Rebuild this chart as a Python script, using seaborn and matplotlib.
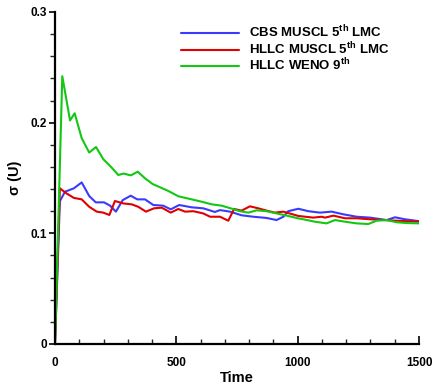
import matplotlib
matplotlib.use("Agg")
import matplotlib.pyplot as plt
from matplotlib.ticker import MultipleLocator
import seaborn as sns
import pandas as pd

# ---- data ----
labels = ["CBS MUSCL 5$^{\\mathbf{th}}$ LMC",
          "HLLC MUSCL 5$^{\\mathbf{th}}$ LMC",
          "HLLC WENO 9$^{\\mathbf{th}}$"]

x_ticks = [0, 500, 1000, 1500]
x_ticklabels = ["0", "500", "1000", "1500"]
y_ticks = [0, 0.1, 0.2, 0.3]
y_ticklabels = ["0", "0.1", "0.2", "0.3"]

t_cbs = [0, 20, 41, 78, 110, 141, 168, 202, 227, 251, 279, 312, 339, 371, 405, 446,
         477, 512, 563, 611, 659, 680, 721, 769, 817, 872, 913, 941, 961, 1003, 1044,
         1092, 1140, 1188, 1243, 1298, 1367, 1401, 1442, 1500]
v_cbs = [0, 0.129, 0.1376, 0.1407, 0.146, 0.1337, 0.128, 0.128, 0.125, 0.1196, 0.130,
         0.134, 0.1307, 0.1307, 0.1256, 0.125, 0.1217, 0.1256, 0.1235, 0.1226, 0.1193,
         0.121, 0.1196, 0.1163, 0.115, 0.1139, 0.112, 0.115, 0.120, 0.1222, 0.120,
         0.1187, 0.1196, 0.1172, 0.115, 0.1142, 0.112, 0.1145, 0.1127, 0.111]

t_hllc = [0, 20, 48, 78, 110, 141, 172, 199, 224, 247, 282, 316, 343, 375, 408, 440,
          477, 508, 536, 570, 611, 639, 680, 714, 738, 769, 803, 838, 872, 906, 941,
          1003, 1064, 1099, 1113, 1147, 1195, 1243, 1298, 1353, 1408, 1500]
v_hllc = [0, 0.1407, 0.136, 0.132, 0.1307, 0.124, 0.1196, 0.1187, 0.1166, 0.1292,
          0.127, 0.1262, 0.124, 0.1196, 0.1226, 0.1232, 0.1187, 0.122, 0.1196, 0.120,
          0.118, 0.115, 0.115, 0.1114, 0.122, 0.1205, 0.1244, 0.1226, 0.1205, 0.1187,
          0.1196, 0.1157, 0.1142, 0.115, 0.1142, 0.116, 0.1136, 0.1136, 0.1127, 0.112,
          0.1114, 0.1105]

t_weno = [0, 30, 62, 81, 110, 141, 169, 199, 231, 261, 282, 313, 341, 371, 402, 433,
          467, 508, 563, 604, 646, 687, 728, 762, 797, 831, 872, 913, 955, 1003, 1023,
          1071, 1119, 1154, 1195, 1243, 1291, 1325, 1367, 1408, 1449, 1500]
v_weno = [0, 0.242, 0.202, 0.2085, 0.186, 0.173, 0.178, 0.167, 0.160, 0.1527, 0.154,
          0.1524, 0.1557, 0.1497, 0.1446, 0.1416, 0.1383, 0.1335, 0.1307, 0.1286, 0.1262,
          0.125, 0.1223, 0.120, 0.1187, 0.1208, 0.120, 0.118, 0.116, 0.1135, 0.1127,
          0.1105, 0.109, 0.112, 0.1105, 0.109, 0.1084, 0.1114, 0.112, 0.110, 0.1093, 0.109]

colors = ["#3a3aff", "#e00000", "#12c812"]

frames = []
for lab, t, v in zip(labels, [t_cbs, t_hllc, t_weno], [v_cbs, v_hllc, v_weno]):
    frames.append(pd.DataFrame({"Time": t, "sigma": v, "scheme": lab}))
df = pd.concat(frames, ignore_index=True)

# ---- style ----
sns.set_style("ticks")
plt.rcParams["font.family"] = ["Liberation Sans", "DejaVu Sans"]
plt.rcParams["font.weight"] = "bold"
plt.rcParams["text.color"] = "black"
plt.rcParams["axes.labelcolor"] = "black"
plt.rcParams["mathtext.fontset"] = "custom"
plt.rcParams["mathtext.rm"] = "Liberation Sans:bold"
plt.rcParams["mathtext.bf"] = "Liberation Sans:bold"

fig = plt.figure(figsize=(4.34, 3.92), dpi=100)
ax = fig.add_axes([55 / 434, 1 - 344 / 392, 364 / 434, 332 / 392])

sns.lineplot(data=df, x="Time", y="sigma", hue="scheme", palette=colors,
             hue_order=labels, estimator=None, sort=False, lw=1.5, ax=ax)

ax.set_xlim(0, 1500)
ax.set_ylim(0, 0.3)
ax.set_xticks(x_ticks)
ax.set_xticklabels(x_ticklabels)
ax.set_yticks(y_ticks)
ax.set_yticklabels(y_ticklabels)
ax.xaxis.set_minor_locator(MultipleLocator(100))
ax.yaxis.set_minor_locator(MultipleLocator(0.02))

for s in ["top", "right"]:
    ax.spines[s].set_visible(False)
for s in ["left", "bottom"]:
    ax.spines[s].set_linewidth(1.6)
    ax.spines[s].set_color("black")

ax.tick_params(axis="x", which="major", direction="in", length=6, width=1.2,
               pad=9, labelsize=8.5, colors="black")
ax.tick_params(axis="x", which="minor", direction="in", length=3.5, width=1.0)
ax.tick_params(axis="y", which="major", direction="out", length=4, width=1.2,
               pad=2, labelsize=8.5, colors="black")
ax.tick_params(axis="y", which="minor", direction="out", length=3.5, width=1.0)
for lbl in ax.get_xticklabels() + ax.get_yticklabels():
    lbl.set_fontweight("bold")

ax.set_xlabel("Time", fontsize=10.5, fontweight="bold", labelpad=2, color="black")
ax.set_ylabel("σ (U)", fontsize=10.5, fontweight="bold", labelpad=6, color="black")

leg = ax.legend(loc="upper left", bbox_to_anchor=((181 - 55) / 364, (344 - 24) / 332),
                frameon=False, fontsize=9.5, handlelength=4.4, handletextpad=0.75,
                labelspacing=0.0, borderpad=0, borderaxespad=0)
for line in leg.get_lines():
    line.set_linewidth(1.5)
for txt in leg.get_texts():
    txt.set_fontweight("bold")
    txt.set_color("black")

fig.savefig("out.png", dpi=100)
